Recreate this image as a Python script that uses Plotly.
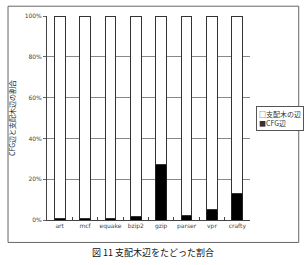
import plotly.graph_objects as go

categories = ["art", "mcf", "equake", "bzip2", "gzip", "parser", "vpr", "crafty"]
cfg_edges = [0.7, 0.7, 0.7, 1.5, 27, 2, 5, 13]
dom_edges = [100 - v for v in cfg_edges]
y_ticks = [0, 20, 40, 60, 80, 100]
y_tick_labels = ["0%", "20%", "40%", "60%", "80%", "100%"]
legend_labels = ["□支配木の辺", "■CFG辺"]

font_jp = "Noto Sans CJK JP"

fig = go.Figure()
fig.add_trace(go.Bar(
    x=categories, y=cfg_edges, name="CFG辺",
    marker=dict(color="#000000", line=dict(color="#222222", width=1)),
    width=0.42, showlegend=False,
))
fig.add_trace(go.Bar(
    x=categories, y=dom_edges, name="支配木の辺",
    marker=dict(color="#ffffff", line=dict(color="#333333", width=1)),
    width=0.42, showlegend=False,
))

fig.update_layout(
    width=306, height=265,
    margin=dict(l=42, r=56, t=12, b=45),
    barmode="stack",
    paper_bgcolor="white", plot_bgcolor="white",
    font=dict(family=font_jp, size=7, color="#222222"),
    showlegend=False,
    xaxis=dict(
        showline=True, linecolor="#444444", linewidth=1,
        ticks="inside", ticklen=3, tickcolor="#444444", tickson="boundaries",
        tickangle=0,
        tickfont=dict(size=6, family="DejaVu Sans", color="#444444"),
        range=[-0.5, 7.5],
    ),
    yaxis=dict(
        range=[0, 100],
        tickvals=y_ticks, ticktext=y_tick_labels,
        showgrid=True, gridcolor="#888888", gridwidth=1,
        showline=True, linecolor="#444444", linewidth=1,
        ticks="outside", ticklen=3, tickcolor="#666666",
        tickfont=dict(size=6, family="DejaVu Sans", color="#444444"),
        title=dict(text="CFG辺と支配木辺の割合", font=dict(size=7, family=font_jp, color="#222222"), standoff=8),
    ),
    shapes=[dict(
        type="rect", xref="paper", yref="paper",
        x0=-0.192, x1=1.24, y0=-0.11, y1=1.048,
        line=dict(color="#666666", width=1), fillcolor="rgba(0,0,0,0)", layer="below",
    )],
    annotations=[
        dict(
            text="図 11 支配木辺をたどった割合", xref="paper", yref="paper",
            x=0.52, y=-0.118, xanchor="center", yanchor="top", showarrow=False,
            font=dict(size=9, family=font_jp, color="#111111"),
        ),
        dict(
            text="<br>".join(legend_labels), xref="paper", yref="paper",
            x=1.03, y=0.56, xanchor="left", yanchor="top", showarrow=False,
            align="left", bordercolor="#555555", borderwidth=1, borderpad=2,
            bgcolor="white",
            font=dict(size=7, family=font_jp, color="#333333"),
        ),
    ],
)

fig.write_html("out.html")
